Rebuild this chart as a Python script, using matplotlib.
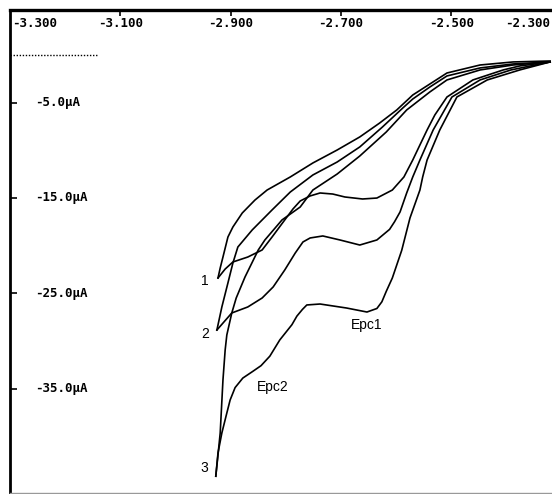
import matplotlib
matplotlib.use("Agg")
import matplotlib.pyplot as plt
import matplotlib.transforms as mtransforms

# potencijal (V) i struja (uA) ocitani sa skeniranog voltamograma
fwd1_E = [-2.321, -2.376, -2.406, -2.461, -2.508, -2.530, -2.544, -2.557, -2.570, -2.586,
          -2.607, -2.635, -2.661, -2.693, -2.715, -2.738, -2.756, -2.774, -2.787, -2.802,
          -2.825, -2.843, -2.869, -2.896, -2.910, -2.923]
fwd1_I = [-0.73, -1.15, -1.57, -2.62, -4.41, -6.30, -7.87, -9.44, -11.02, -12.80,
          -14.17, -15.01, -15.11, -14.90, -14.59, -14.48, -14.79, -15.32, -16.15, -17.31,
          -19.10, -20.46, -21.20, -21.72, -22.46, -23.40]

rev1_E = [-2.923, -2.919, -2.914, -2.905, -2.896, -2.879, -2.856, -2.834, -2.792, -2.751,
          -2.707, -2.666, -2.630, -2.599, -2.570, -2.508, -2.448, -2.388, -2.321]
rev1_I = [-23.40, -22.35, -21.20, -19.10, -18.05, -16.58, -15.22, -14.17, -12.80, -11.33,
          -9.97, -8.60, -7.14, -5.77, -4.20, -1.89, -1.05, -0.73, -0.63]

fwd2_E = [-2.321, -2.392, -2.448, -2.499, -2.533, -2.557, -2.570, -2.581, -2.593, -2.603,
          -2.612, -2.635, -2.666, -2.702, -2.733, -2.756, -2.769, -2.783, -2.802, -2.823,
          -2.843, -2.869, -2.898, -2.925]
fwd2_I = [-0.73, -1.57, -2.62, -4.41, -7.87, -11.02, -12.80, -14.48, -16.47, -17.50,
          -18.30, -19.41, -19.94, -19.41, -18.99, -19.20, -19.62, -20.78, -22.56, -24.34,
          -25.50, -26.44, -27.07, -28.86]

rev2_E = [-2.925, -2.916, -2.905, -2.896, -2.887, -2.861, -2.825, -2.792, -2.751, -2.707,
          -2.666, -2.625, -2.588, -2.570, -2.539, -2.508, -2.448, -2.388, -2.321]
rev2_I = [-28.86, -26.44, -23.92, -21.83, -20.15, -18.36, -16.26, -14.38, -12.59, -11.23,
          -9.65, -7.56, -5.56, -4.62, -3.36, -2.20, -1.36, -0.94, -0.73]

fwd3_E = [-2.321, -2.376, -2.435, -2.490, -2.521, -2.544, -2.552, -2.557, -2.575, -2.590,
          -2.607, -2.618, -2.626, -2.635, -2.653, -2.690, -2.738, -2.762, -2.770, -2.780,
          -2.789, -2.811, -2.829, -2.845, -2.860, -2.878, -2.892, -2.901, -2.907, -2.916,
          -2.923, -2.927]
fwd3_I = [-0.73, -1.57, -2.62, -4.41, -7.87, -11.02, -12.80, -14.17, -17.10, -20.50,
          -23.40, -24.80, -25.90, -26.60, -26.97, -26.55, -26.13, -26.23, -26.70, -27.40,
          -28.30, -29.90, -31.60, -32.60, -33.20, -33.90, -34.90, -36.20, -37.57, -39.66,
          -41.76, -44.20]

rev3_E = [-2.927, -2.923, -2.919, -2.914, -2.910, -2.907, -2.898, -2.890, -2.874, -2.850,
          -2.838, -2.807, -2.774, -2.751, -2.707, -2.666, -2.618, -2.581, -2.539, -2.508,
          -2.448, -2.388, -2.321]
rev3_I = [-44.20, -41.97, -39.66, -34.10, -30.95, -29.38, -27.07, -25.50, -23.29, -20.46,
          -19.41, -17.31, -15.95, -14.17, -12.49, -10.60, -8.08, -5.77, -3.88, -2.62,
          -1.57, -1.05, -0.73]

y_ticks = [-5, -15, -25, -35]
y_labels = ["-5.0µA", "-15.0µA", "-25.0µA", "-35.0µA"]
x_ticks = [-3.1, -2.9, -2.7, -2.5]
x_labels = ["-3.100", "-2.900", "-2.700", "-2.500"]
x_end_labels = ["-3.300", "-2.300"]

curve_labels = ["1", "2", "3", "Epc1", "Epc2"]
curve_label_E = [-2.947, -2.947, -2.947, -2.653, -2.823]
curve_label_I = [-23.7, -29.3, -43.3, -28.3, -34.8]

fig = plt.figure(figsize=(5.52, 4.94), dpi=100)
ax = fig.add_axes([10 / 552, 1 / 494, 542 / 552, 483 / 494])
ax.set_xlim(-3.300, -2.3176)
ax.set_ylim(-45.96, 4.72)

for E, I in [(fwd1_E, fwd1_I), (rev1_E, rev1_I), (fwd2_E, fwd2_I),
             (rev2_E, rev2_I), (fwd3_E, fwd3_I), (rev3_E, rev3_I)]:
    ax.plot(E, I, color="black", lw=1.2, solid_joinstyle="round")

# nulta linija (tackasta) lijevo gore
ax.plot([-3.300, -3.140], [0, 0], color="black", lw=1.0, ls=(0, (1, 1.2)))

ax.spines["top"].set_linewidth(2.4)
ax.spines["left"].set_linewidth(2.0)
ax.spines["bottom"].set_linewidth(1.0)
ax.spines["bottom"].set_color("#999999")
ax.spines["right"].set_visible(False)

ax.xaxis.tick_top()
ax.set_xticks(x_ticks)
ax.set_xticklabels([])
ax.set_yticks(y_ticks)
ax.set_yticklabels([])
ax.tick_params(axis="x", direction="in", length=4, width=1.2, color="black")
ax.tick_params(axis="y", direction="in", length=5, width=1.2, color="black")

mono = dict(family="DejaVu Sans Mono", fontweight="bold", fontsize=9)
tr_x = mtransforms.blended_transform_factory(ax.transData, ax.transAxes)
tr_y = mtransforms.blended_transform_factory(ax.transAxes, ax.transData)
for v, lab in zip(x_ticks, x_labels):
    ax.text(v, 0.973, lab, transform=tr_x, ha="center", va="center", **mono)
ax.text(0.004, 0.973, x_end_labels[0], transform=ax.transAxes, ha="left", va="center", **mono)
ax.text(0.996, 0.973, x_end_labels[1], transform=ax.transAxes, ha="right", va="center", **mono)
for v, lab in zip(y_ticks, y_labels):
    ax.text(0.046, v, lab, transform=tr_y, ha="left", va="center", **mono)

for lab, E, I in zip(curve_labels, curve_label_E, curve_label_I):
    ax.text(E, I, lab, ha="center", va="center", fontsize=10, family="Liberation Sans")

fig.savefig("out.png", dpi=100)
